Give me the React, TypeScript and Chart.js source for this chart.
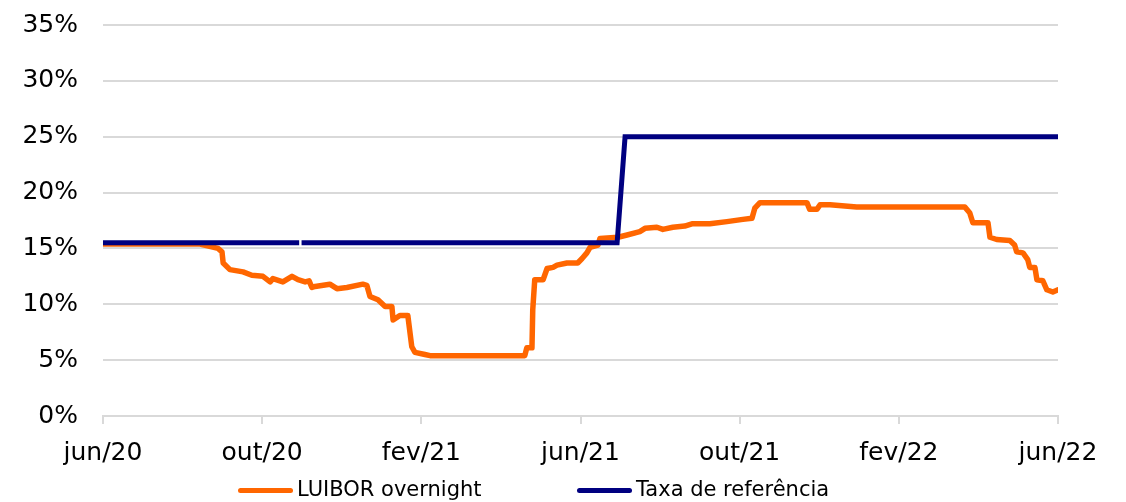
import React, { useEffect, useRef } from "react";
import { Chart, registerables } from "chart.js";

Chart.register(...registerables);

// x = months since jun/20
const tickLabels = ["jun/20", "out/20", "fev/21", "jun/21", "out/21", "fev/22", "jun/22"];

const luiborMonths = [0, 2.44, 2.89, 2.99, 3.02, 3.19, 3.52, 3.74, 4.02, 4.2, 4.27, 4.52, 4.75, 4.9, 5.08, 5.18, 5.25, 5.33, 5.7, 5.88, 6.13, 6.53, 6.63, 6.71, 6.91, 7.09, 7.26, 7.29, 7.46, 7.66, 7.76, 7.84, 8.09, 8.22, 10.6, 10.65, 10.78, 10.8, 10.85, 11.06, 11.16, 11.31, 11.41, 11.66, 11.93, 12.04, 12.16, 12.24, 12.44, 12.49, 12.94, 13.17, 13.49, 13.62, 13.92, 14.07, 14.32, 14.62, 14.8, 15.25, 15.68, 16.08, 16.31, 16.38, 16.51, 17.69, 17.76, 17.94, 18.02, 18.27, 18.94, 21.66, 21.78, 21.86, 22.24, 22.29, 22.46, 22.79, 22.91, 22.96, 23.12, 23.24, 23.29, 23.42, 23.47, 23.62, 23.72, 23.87, 24];
const luiborValues = [15.4, 15.4, 15.0, 14.7, 13.7, 13.1, 12.9, 12.6, 12.5, 12.0, 12.3, 12.0, 12.5, 12.2, 12.0, 12.1, 11.5, 11.6, 11.8, 11.4, 11.5, 11.8, 11.7, 10.7, 10.4, 9.8, 9.8, 8.6, 9.0, 9.0, 6.2, 5.7, 5.5, 5.4, 5.4, 6.1, 6.1, 9.5, 12.2, 12.2, 13.2, 13.3, 13.5, 13.7, 13.7, 14.1, 14.6, 15.1, 15.3, 15.9, 16.0, 16.2, 16.5, 16.8, 16.9, 16.7, 16.9, 17.0, 17.2, 17.2, 17.4, 17.6, 17.7, 18.6, 19.1, 19.1, 18.5, 18.5, 18.9, 18.9, 18.7, 18.7, 18.2, 17.3, 17.3, 16.0, 15.8, 15.7, 15.3, 14.7, 14.6, 14.0, 13.3, 13.3, 12.2, 12.1, 11.3, 11.1, 11.3];

const refMonths = [0, 4.93, 4.96, 4.99, 12.92, 13.12, 24];
const refValues: (number | null)[] = [15.5, 15.5, null, 15.5, 15.5, 25, 25];

const seriesNames = ["LUIBOR overnight", "Taxa de referência"];
const seriesColors = ["#FF6600", "#000080"];

const FONT = "'DejaVu Sans', Verdana, sans-serif";

export default function App() {
  const ref = useRef<HTMLCanvasElement | null>(null);
  useEffect(() => {
    if (!ref.current) return;
    const chart = new Chart(ref.current, {
      type: "line",
      data: {
        datasets: [
          {
            label: seriesNames[0],
            data: luiborMonths.map((m, i) => ({ x: m, y: luiborValues[i] })),
            borderColor: seriesColors[0],
            backgroundColor: seriesColors[0],
            borderWidth: 5.5,
            pointRadius: 0,
            tension: 0,
            borderJoinStyle: "round",
            borderCapStyle: "round",
            order: 1,
          },
          {
            label: seriesNames[1],
            data: refMonths.map((m, i) => ({ x: m, y: refValues[i] })),
            borderColor: seriesColors[1],
            backgroundColor: seriesColors[1],
            borderWidth: 5,
            pointRadius: 0,
            tension: 0,
            spanGaps: false,
            order: 0,
          },
        ],
      },
      options: {
        animation: false,
        responsive: false,
        layout: { padding: { left: 0, right: 68, top: 25, bottom: 0 } },
        plugins: {
          tooltip: { enabled: false },
          legend: { display: false },
        },
        scales: {
          x: {
            type: "linear",
            min: 0,
            max: 24,
            grid: { drawOnChartArea: false, drawTicks: true, tickLength: 8, color: "#d9d9d9", lineWidth: 2 },
            border: { display: true, color: "#d9d9d9", width: 2 },
            ticks: {
              stepSize: 4,
              padding: 14,
              color: "#000",
              maxRotation: 0,
              font: { family: FONT, size: 25 },
              callback: (v: any) => tickLabels[Math.round(Number(v) / 4)] ?? "",
            },
            afterFit: (s: any) => {
              s.height = 86;
              s.paddingLeft = 0;
              s.paddingRight = 0;
            },
          },
          y: {
            min: 0,
            max: 35,
            grid: { drawTicks: false, color: "#d9d9d9", lineWidth: 2 },
            border: { display: false },
            ticks: {
              stepSize: 5,
              padding: 25,
              color: "#000",
              font: { family: FONT, size: 25 },
              callback: (v: any) => v + "%",
            },
            afterFit: (s: any) => {
              s.width = 103;
              s.paddingTop = 0;
              s.paddingBottom = 0;
            },
          },
        },
      },
    });
    return () => chart.destroy();
  }, []);

  const itemWidths = [339, 280];
  return (
    <div style={{ position: "fixed", left: 0, top: 0, width: 1126, height: 502, background: "#fff" }}>
      <canvas ref={ref} width={1126} height={502} />
      <div
        style={{
          position: "absolute",
          left: 238,
          top: 476,
          display: "flex",
          fontFamily: FONT,
          fontSize: 21,
          color: "#000",
          lineHeight: "26px",
          whiteSpace: "nowrap",
        }}
      >
        {seriesNames.map((name, i) => (
          <div key={name} style={{ display: "flex", alignItems: "center", width: itemWidths[i] }}>
            <span
              style={{
                display: "inline-block",
                width: 55,
                height: 5,
                borderRadius: 3,
                background: seriesColors[i],
                marginRight: 4,
                marginTop: 2,
              }}
            />
            <span>{name}</span>
          </div>
        ))}
      </div>
    </div>
  );
}
